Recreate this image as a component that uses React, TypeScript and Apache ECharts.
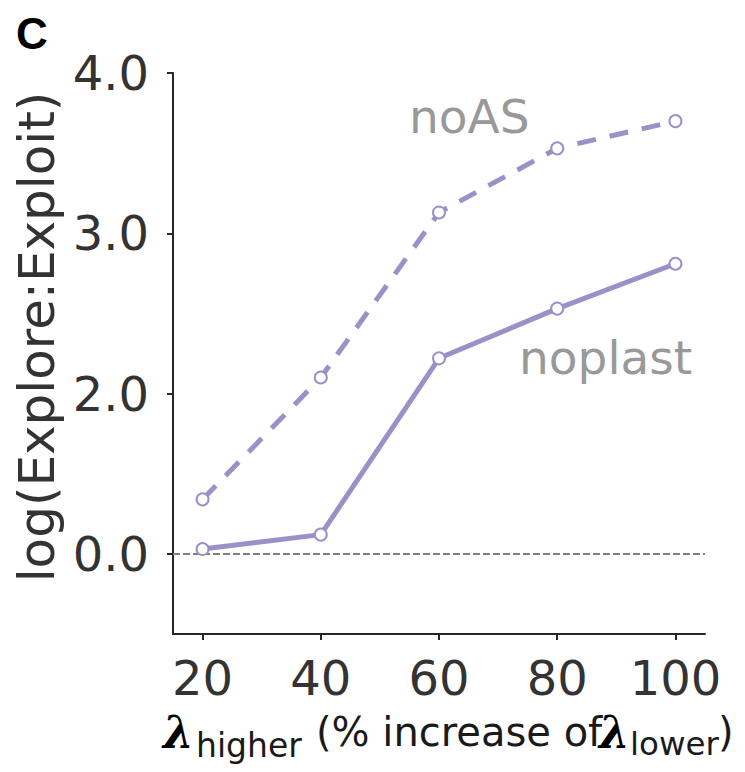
import React, { useEffect, useRef } from "react";
import * as echarts from "echarts";

// Data (y values are in the plot's own vertical units; the tick labels
// below are placed at equally spaced positions 0,1,2,3 as in the reference)
const xValues = [20, 40, 60, 80, 100];
const noASValues = [0.34, 1.1, 2.13, 2.53, 2.7];
const noplastValues = [0.03, 0.12, 1.22, 1.53, 1.81];
const yTickPositions = [0, 1, 2, 3];
const yTickLabels = ["0.0", "2.0", "3.0", "4.0"];
const seriesNames = ["noAS", "noplast"];

const PURPLE = "#9a91c9";
const FONT = "DejaVu Sans";

// place text by baseline using middle alignment
const mid = (baseline: number, size: number) => baseline - 0.33 * size;

export default function App() {
  const ref = useRef<HTMLDivElement>(null);
  useEffect(() => {
    if (!ref.current) return;
    const chart = echarts.init(ref.current, undefined, { renderer: "svg" });
    const axisLine = { show: true, onZero: false, lineStyle: { color: "#262626", width: 2 } };
    const xLabelPieces = [
      { text: "λ", x: 163, base: 747, size: 44, bold: true },
      { text: "higher", x: 196, base: 756, size: 33, bold: false },
      { text: "(% increase of", x: 316, base: 745, size: 40, bold: false },
      { text: "λ", x: 599, base: 747, size: 44, bold: true },
      { text: "lower", x: 630, base: 755, size: 32.5, bold: false },
      { text: ")", x: 718, base: 745, size: 40, bold: false },
    ];
    chart.setOption({
      animation: false,
      backgroundColor: "#ffffff",
      grid: { left: 173, right: 40, top: 73, bottom: 138, containLabel: false },
      xAxis: {
        type: "value",
        min: 15,
        max: 105,
        axisLine,
        axisTick: { show: true, length: 6, lineStyle: { color: "#262626", width: 2 }, customValues: xValues },
        axisLabel: {
          customValues: xValues,
          fontFamily: FONT,
          fontSize: 48,
          color: "#333333",
          margin: 20,
        },
        splitLine: { show: false },
      },
      yAxis: {
        type: "value",
        min: -0.5,
        max: 3,
        axisLine,
        axisTick: { show: true, length: 6, lineStyle: { color: "#262626", width: 2 }, customValues: yTickPositions },
        axisLabel: {
          customValues: yTickPositions,
          formatter: (v: number) => {
            const i = yTickPositions.indexOf(Math.round(v * 1000) / 1000);
            return i >= 0 ? yTickLabels[i] : "";
          },
          fontFamily: FONT,
          fontSize: 48,
          color: "#333333",
          margin: 24,
        },
        splitLine: { show: false },
      },
      series: [
        {
          name: seriesNames[0],
          type: "line",
          data: xValues.map((x, i) => [x, noASValues[i]]),
          symbol: "emptyCircle",
          symbolSize: 12,
          itemStyle: { color: PURPLE, borderColor: PURPLE, borderWidth: 4 },
          lineStyle: { color: PURPLE, width: 5, type: [19, 14] },
          z: 3,
        },
        {
          name: seriesNames[1],
          type: "line",
          data: xValues.map((x, i) => [x, noplastValues[i]]),
          symbol: "emptyCircle",
          symbolSize: 12,
          itemStyle: { color: PURPLE, borderColor: PURPLE, borderWidth: 4 },
          lineStyle: { color: PURPLE, width: 5 },
          z: 3,
          markLine: {
            silent: true,
            symbol: "none",
            label: { show: false },
            lineStyle: { color: "#808080", width: 2, type: [7, 3] },
            data: [{ yAxis: 0 }],
            z: 1,
          },
        },
      ],
      graphic: [
        {
          type: "text",
          x: 16,
          y: mid(48, 44),
          style: {
            text: "C",
            fontFamily: "Liberation Sans",
            fontSize: 44,
            fontWeight: "bold",
            fill: "#000",
            verticalAlign: "middle",
          },
        },
        {
          type: "text",
          x: 37,
          y: 337,
          rotation: Math.PI / 2,
          style: {
            text: "log(Explore:Exploit)",
            fontFamily: FONT,
            fontSize: 50,
            fill: "#333333",
            align: "center",
            verticalAlign: "middle",
          },
        },
        {
          type: "text",
          x: 409,
          y: 116,
          style: { text: seriesNames[0], fontFamily: FONT, fontSize: 47, fill: "#999999", verticalAlign: "middle" },
        },
        {
          type: "text",
          x: 519,
          y: 357,
          style: { text: seriesNames[1], fontFamily: FONT, fontSize: 47, fill: "#999999", verticalAlign: "middle" },
        },
        ...xLabelPieces.map((p) => ({
          type: "text",
          x: p.x,
          y: mid(p.base, p.size),
          style: {
            text: p.text,
            fontFamily: p.bold ? "DejaVu Serif" : FONT,
            fontSize: p.size,
            fontWeight: p.bold ? "bold" : "normal",
            fontStyle: p.bold ? "italic" : "normal",
            fill: p.bold ? "#000" : "#1a1a1a",
            verticalAlign: "middle",
          },
        })),
      ],
    });
    return () => chart.dispose();
  }, []);
  return (
    <div
      ref={ref}
      style={{ position: "fixed", left: 0, top: 0, width: 745, height: 772, background: "#fff" }}
    />
  );
}
